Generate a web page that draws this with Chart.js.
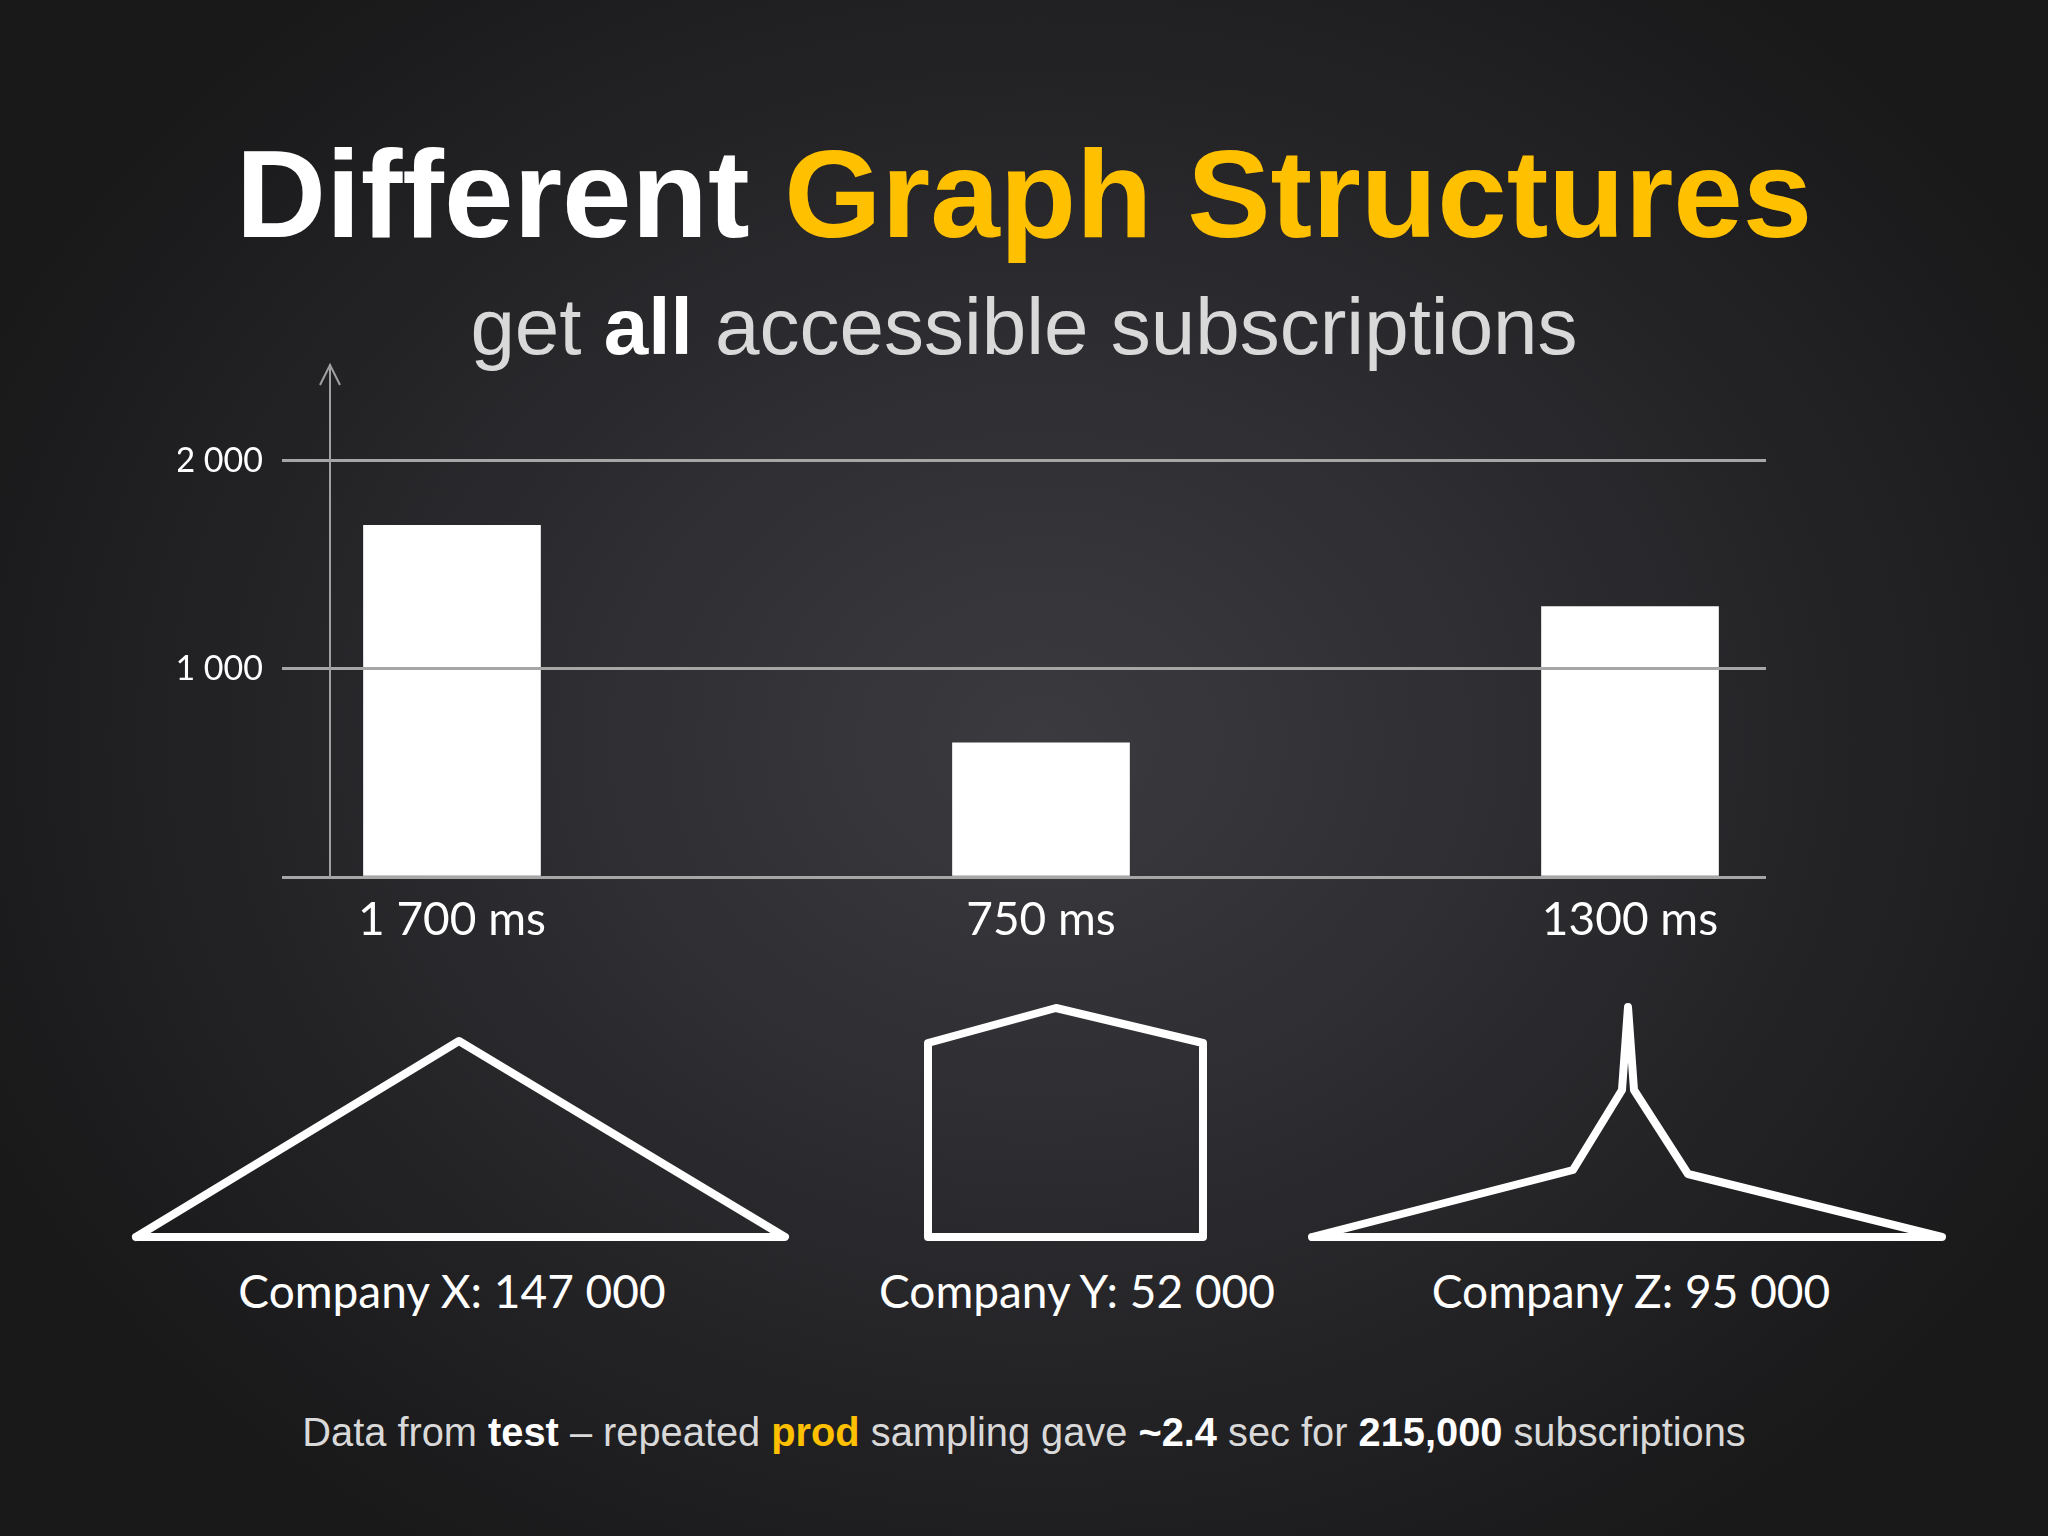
<!DOCTYPE html>
<html>
<head>
<meta charset="utf-8">
<title>Different Graph Structures</title>
<script src="https://cdn.jsdelivr.net/npm/chart.js"></script>
<style>
  html, body { margin: 0; padding: 0; }
  body {
    width: 2048px;
    height: 1536px;
    position: relative;
    overflow: hidden;
    background: radial-gradient(ellipse 1150px 950px at 1040px 740px, #3b3a3e 0%, #302f33 35%, #232225 70%, #19191a 100%);
    font-family: "Liberation Sans", Arial, sans-serif;
  }
  .title, .subtitle, .footer {
    position: absolute;
    left: 0;
    width: 2048px;
    text-align: center;
    line-height: 1;
    white-space: nowrap;
  }
  .title { top: 131px; font-size: 125px; font-weight: bold; color: #fff; }
  .subtitle { top: 287px; font-size: 80px; color: #d9d9d9; }
  .footer { top: 1413px; font-size: 39.8px; color: #d9d9d9; }
  .subtitle b, .footer b { color: #fff; }
  .gold, .footer b.gold { color: #ffc000; }
  #barWrap { position: absolute; left: 0; top: 0; width: 2048px; height: 1000px; }
  #shapeWrap { position: absolute; left: 0; top: 997px; width: 2048px; height: 260px; }
  .company {
    position: absolute;
    top: 1268px;
    font-family: Lato, sans-serif;
    font-size: 46px;
    line-height: 1;
    color: #fff;
    white-space: nowrap;
    transform: translateX(-50%);
  }
</style>
</head>
<body>
  <div class="title">Different <span class="gold">Graph Structures</span></div>
  <div class="subtitle">get <b>all</b> accessible subscriptions</div>

  <div id="barWrap"><canvas id="timeChart"></canvas></div>
  <div id="shapeWrap"><canvas id="shapeChart"></canvas></div>
  <div id="companyLabels"></div>

  <div class="footer">Data from <b>test</b> – repeated <b class="gold">prod</b> sampling gave <b>~2.4</b> sec for <b>215,000</b> subscriptions</div>

<script>
const responseLabels = ["1 700 ms", "750 ms", "1300 ms"];
const responseTimes = [1690, 645, 1300];
const yTickValues = [0, 1000, 2000];
const yTickLabels = ["", "1 000", "2 000"];

const companyNames = ["Company X", "Company Y", "Company Z"];
const subscriptionCounts = ["147 000", "52 000", "95 000"];

// outlines of the three graph shapes, [x, height]
const triangleOutline = [[136, 0], [459, 196], [785, 0], [136, 0]];
const houseOutline = [[928, 0], [928, 194], [1056, 229], [1203, 194], [1203, 0], [928, 0]];
const spikeOutline = [[1312, 0], [1573, 67], [1622, 147], [1628, 230], [1634, 147], [1688, 63], [1942, 0], [1312, 0]];

const labelCenters = [452, 1077, 1631];

Chart.defaults.font.family = "Lato";
Chart.defaults.color = "#ffffff";

const axisArrow = {
  id: "axisArrow",
  afterDraw(chart) {
    const { ctx, chartArea } = chart;
    ctx.save();
    ctx.strokeStyle = "#a0a0a0";
    ctx.lineWidth = 2;
    ctx.beginPath();
    ctx.moveTo(chartArea.left - 10, chartArea.top + 20);
    ctx.lineTo(chartArea.left, chartArea.top);
    ctx.lineTo(chartArea.left + 10, chartArea.top + 20);
    ctx.stroke();
    ctx.restore();
  },
};

let timeCtx = document.getElementById("timeChart").getContext("2d");

let timeChart = new Chart(timeCtx, {
  type: "bar",
  data: {
    datasets: [{
      data: responseTimes.map((v, i) => ({ x: i, y: v })),
      backgroundColor: "#ffffff",
      borderWidth: 0,
      barThickness: 177,
    }],
  },
  options: {
    responsive: true,
    maintainAspectRatio: false,
    animation: false,
    layout: { padding: { left: 178, top: 365, right: 282, bottom: 43 } },
    plugins: {
      legend: { display: false },
      tooltip: { enabled: false },
    },
    scales: {
      x: {
        type: "linear",
        offset: false,
        bounds: "data",
        min: -0.2071,
        max: 2.2309,
        afterBuildTicks: (scale) => {
          scale.ticks = responseLabels.map((_, i) => ({ value: i }));
        },
        afterFit: (scale) => { scale.height = 80; },
        grid: { display: false, drawTicks: false, offset: false },
        border: { display: false },
        ticks: {
          padding: 16,
          maxRotation: 0,
          autoSkip: false,
          font: { size: 46 },
          color: "#ffffff",
          callback: (value, index) => responseLabels[index],
        },
      },
      y: {
        type: "linear",
        bounds: "data",
        min: 0,
        max: 2461,
        afterBuildTicks: (scale) => {
          scale.ticks = yTickValues.map((v) => ({ value: v }));
        },
        afterFit: (scale) => { scale.width = 152; },
        grid: {
          color: "#a6a6a6",
          lineWidth: 3,
          tickLength: 48,
          tickColor: "#a6a6a6",
          z: 1,
        },
        border: { display: true, color: "#a0a0a0", width: 2, z: 1 },
        ticks: {
          padding: 19,
          autoSkip: false,
          font: { size: 34 },
          color: "#ffffff",
          callback: (value, index) => yTickLabels[index],
        },
      },
    },
  },
  plugins: [axisArrow],
});

let shapeCtx = document.getElementById("shapeChart").getContext("2d");

const outlineSet = (points) => ({
  data: points.map(([x, y]) => ({ x, y })),
  showLine: true,
  borderColor: "#ffffff",
  borderWidth: 8,
  borderJoinStyle: "round",
  borderCapStyle: "round",
  pointRadius: 0,
  fill: false,
  tension: 0,
  clip: false,
});

let shapeChart = new Chart(shapeCtx, {
  type: "scatter",
  data: {
    datasets: [
      outlineSet(triangleOutline),
      outlineSet(houseOutline),
      outlineSet(spikeOutline),
    ],
  },
  options: {
    responsive: true,
    maintainAspectRatio: false,
    animation: false,
    layout: { padding: 0 },
    plugins: {
      legend: { display: false },
      tooltip: { enabled: false },
    },
    scales: {
      x: { type: "linear", min: 0, max: 2048, display: false },
      y: { type: "linear", min: -20, max: 240, display: false },
    },
  },
});

const labelBox = document.getElementById("companyLabels");
companyNames.forEach((name, i) => {
  const el = document.createElement("div");
  el.className = "company";
  el.style.left = labelCenters[i] + "px";
  el.textContent = `${name}: ${subscriptionCounts[i]}`;
  labelBox.appendChild(el);
});
</script>
</body>
</html>
